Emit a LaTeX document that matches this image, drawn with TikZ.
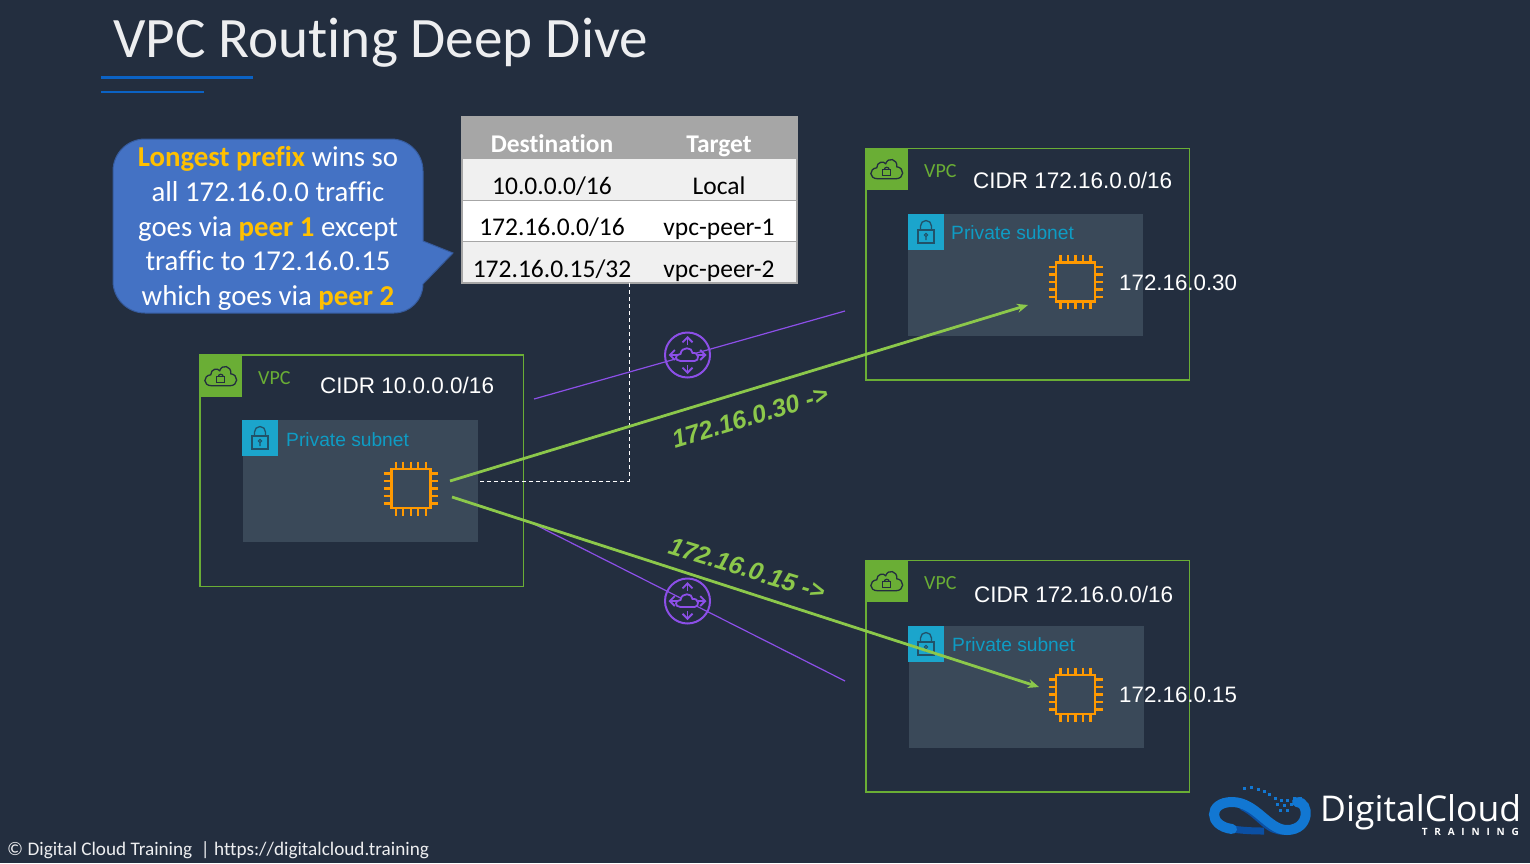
\documentclass[tikz,border=0pt]{standalone}
\usepackage{fontspec}
\setmainfont{Carlito}[Ligatures=NoCommon]
\newfontfamily\arialfont{Liberation Sans}
\newfontfamily\logofont{Open Sans}
\usetikzlibrary{arrows.meta}
\definecolor{bgdark}{HTML}{232E3F}
\definecolor{vpcgreen}{HTML}{6AAE35}
\definecolor{subnetfill}{HTML}{3A4959}
\definecolor{subnetblue}{HTML}{1BA5CC}
\definecolor{subnettext}{HTML}{0E9CC4}
\definecolor{chiporange}{HTML}{FF9900}
\definecolor{peerpurple}{HTML}{8C4FE8}
\definecolor{routegreen}{HTML}{8CC84B}
\definecolor{calloutblue}{HTML}{4472C4}
\definecolor{prefixgold}{HTML}{FFC000}
\definecolor{titleblue}{HTML}{0B62C4}
\definecolor{logoblue}{HTML}{1277D2}
\definecolor{logodeep}{HTML}{0B4FA3}
\tikzset{
  vpcbox/.style={draw=vpcgreen,line width=1.8pt,minimum width=323.5pt,minimum height=231.5pt,inner sep=0pt,outer sep=0pt,anchor=north west},
  vpcicon/.style={fill=vpcgreen,minimum size=41.5pt,inner sep=0pt,outer sep=0pt,anchor=north west},
  subnetbox/.style={fill=subnetfill,minimum width=235pt,minimum height=122pt,inner sep=0pt,outer sep=0pt,anchor=north west},
  subneticon/.style={fill=subnetblue,minimum size=36pt,inner sep=0pt,outer sep=0pt,anchor=north west},
  vpclabel/.style={text=vpcgreen,font=\fontsize{20}{24}\selectfont,inner sep=0pt,anchor=west},
  subnetlabel/.style={text=subnettext,font=\arialfont\fontsize{19.2}{24}\selectfont,inner sep=0pt,anchor=west},
  cidrlabel/.style={text=white,font=\arialfont\fontsize{22.5}{27}\selectfont,inner sep=0pt,anchor=west},
  iplabel/.style={text=white,font=\arialfont\fontsize{22.3}{27}\selectfont,inner sep=0pt,anchor=west},
  routelabel/.style={text=routegreen,font=\arialfont\bfseries\itshape\fontsize{25}{27}\selectfont,inner sep=0pt},
  rowbox/.style={minimum width=335pt,inner sep=0pt,outer sep=0pt,anchor=north west},
  cell/.style={text=black,font=\fontsize{25.5}{30}\selectfont,inner sep=0pt,anchor=base},
  headcell/.style={text=white,font=\bfseries\fontsize{25.5}{30}\selectfont,inner sep=0pt,anchor=base},
  peerline/.style={draw=peerpurple,line width=1.2pt},
  routearrow/.style={draw=routegreen,line width=2.8pt,-{Stealth[length=11pt,width=9pt]}},
  chipicon/.pic={
    \draw[chiporange,line width=2.8pt] (-19.5,-19.5) rectangle (19.5,19.5);
    \foreach \p in {-15,-7.5,0,7.5,15} {
      \draw[chiporange,line width=2.1pt] (\p,-27) -- (\p,-19.5);
      \draw[chiporange,line width=2.1pt] (\p,19.5) -- (\p,27);
      \draw[chiporange,line width=2.1pt] (-27,\p) -- (-19.5,\p);
      \draw[chiporange,line width=2.1pt] (19.5,\p) -- (27,\p);
    }
  },
  cloudlock/.pic={
    \draw[bgdark,line width=1.3pt] (-9,10) .. controls (-18,10) and (-18,0) .. (-10,-1) .. controls (-10,-7) and (-3,-8) .. (-1,-5) .. controls (1,-12) and (11,-10) .. (10,-2) .. controls (18,-1) and (18,10) .. (9,10) -- cycle;
    \draw[bgdark,line width=1.2pt] (-4,1) rectangle (4,7);
    \draw[bgdark,line width=1.2pt] (-2.5,1) arc (180:360:2.5);
  },
  padlock/.pic={
    \draw[bgdark!70!subnetblue,line width=1.3pt] (-8,-2) rectangle (8,11);
    \draw[bgdark!70!subnetblue,line width=1.3pt] (-5.5,-2) -- (-5.5,-6) arc (180:360:5.5) -- (5.5,-2);
    \draw[bgdark!70!subnetblue,line width=1.1pt] (0,3) circle (1.6) (0,4.6) -- (0,8);
  },
  routericon/.pic={
    \draw[peerpurple,line width=2pt] (0,0) circle (22.5);
    \foreach \a in {0,90,180,270} {
      \draw[peerpurple,line width=1.8pt,-{Straight Barb[length=5pt,width=10pt]}] (\a:10) -- (\a:19);
    }
    \draw[peerpurple,line width=1.8pt,fill=bgdark] (-7,6) .. controls (-13,6) and (-13,-1) .. (-7,-1) .. controls (-6,-9) and (5,-8) .. (5,-2) .. controls (12,-3) and (12,6) .. (7,6) -- cycle;
  }
}
\begin{document}
\begin{tikzpicture}[x=1pt,y=-1pt]
\useasboundingbox[fill=bgdark] (0,0) rectangle (1530,863);

% title
\node[text=white!92!bgdark,font=\fontsize{57.2}{60}\selectfont,inner sep=0pt,anchor=west] (title) at (113,43) {VPC Routing Deep Dive};
\coordinate (ruleA) at (101,77);
\coordinate (ruleB) at (253,77);
\coordinate (ruleC) at (101,91.5);
\coordinate (ruleD) at (204,91.5);
\draw[titleblue,line width=3pt] (ruleA) -- (ruleB);
\draw[titleblue,line width=2pt] (ruleC) -- (ruleD);

% callout
\draw[fill=calloutblue,draw=calloutblue!80!black,line width=1pt]
  (145,139) -- (391,139) arc (270:360:32) -- (423,241) -- (453,253) -- (423,284) arc (0:90:29) -- (145,313) arc (90:180:32) -- (113,171) arc (180:270:32) -- cycle;
\node[text=white,align=center,font=\fontsize{28.8}{34.6}\selectfont,inner sep=0pt] (callout) at (268,228.5) {{\color{prefixgold}\bfseries Longest prefix} wins so\\all 172.16.0.0 traffic\\goes via {\color{prefixgold}\bfseries peer 1} except\\traffic to 172.16.0.15\\which goes via {\color{prefixgold}\bfseries peer 2}};

% route table
\node[rowbox,fill=black!35,minimum height=42pt] (rowH) at (462,117) {};
\node[rowbox,fill=black!6,minimum height=41pt] (rowA) at (462,159) {};
\node[rowbox,fill=white,minimum height=41pt] (rowB) at (462,200) {};
\node[rowbox,fill=black!6,minimum height=42pt] (rowC) at (462,241) {};
\draw[black!35,line width=1.5pt] (rowH.north west) rectangle (rowC.south east);
\draw[black!35,line width=1pt] (rowB.north west) -- (rowB.north east);
\draw[black!35,line width=1pt] (rowC.north west) -- (rowC.north east);
\node[headcell] (headDest) at (552,152) {Destination};
\node[headcell] (headTarget) at (719,152) {Target};
\node[cell] (destA) at (552,194) {10.0.0.0/16};
\node[cell] (targetA) at (719,194) {Local};
\node[cell] (destB) at (552,235) {172.16.0.0/16};
\node[cell] (targetB) at (719,235) {vpc-peer-1};
\node[cell] (destC) at (552,277) {172.16.0.15/32};
\node[cell] (targetC) at (719,277) {vpc-peer-2};

% source vpc
\node[vpcbox] (vpcA) at (200,355) {};
\node[vpcicon] (vpcAicon) at (200,355) {};
\pic at (vpcAicon.center) {cloudlock};
\node[vpclabel] (vpcAlabel) at (258,378) {VPC};
\node[cidrlabel] (cidrA) at (320,385) {CIDR 10.0.0.0/16};
\node[subnetbox] (subnetA) at (243,420) {};
\node[subneticon] (subnetAicon) at (242,420) {};
\pic at (subnetAicon.center) {padlock};
\node[subnetlabel] (subnetAlabel) at (286,440) {Private subnet};

% vpc peer 1
\node[vpcbox] (vpcB) at (866,148.5) {};
\node[vpcicon] (vpcBicon) at (866,148) {};
\pic at (vpcBicon.center) {cloudlock};
\node[vpclabel] (vpcBlabel) at (924,171) {VPC};
\node[cidrlabel] (cidrB) at (973,180) {CIDR 172.16.0.0/16};
\node[subnetbox] (subnetB) at (908,214) {};
\node[subneticon] (subnetBicon) at (908,214) {};
\pic at (subnetBicon.center) {padlock};
\node[subnetlabel] (subnetBlabel) at (951,233) {Private subnet};

% vpc peer 2
\node[vpcbox] (vpcC) at (866,560.5) {};
\node[vpcicon] (vpcCicon) at (866,560) {};
\pic at (vpcCicon.center) {cloudlock};
\node[vpclabel] (vpcClabel) at (924,583) {VPC};
\node[cidrlabel] (cidrC) at (974,594) {CIDR 172.16.0.0/16};
\node[subnetbox] (subnetC) at (909,626) {};
\node[subneticon] (subnetCicon) at (908,626) {};
\pic at (subnetCicon.center) {padlock};
\node[subnetlabel] (subnetClabel) at (952,645) {Private subnet};

% instances
\coordinate (chipA) at (410.7,488.5);
\coordinate (chipB) at (1075.5,282);
\coordinate (chipC) at (1075.5,694.5);
\pic at (chipA) {chipicon};
\pic at (chipB) {chipicon};
\pic at (chipC) {chipicon};
\node[iplabel] (ipB) at (1119,283) {172.16.0.30};
\node[iplabel] (ipC) at (1119,695) {172.16.0.15};

% dashed link from table
\coordinate (dashA) at (629,283);
\coordinate (dashB) at (629,481);
\coordinate (dashC) at (478,481);
\draw[white,line width=1pt,dash pattern=on 4pt off 3pt] (dashA) -- (dashB) -- (dashC);

% peering links
\coordinate (peerAa) at (534,399);
\coordinate (peerAb) at (845,311);
\coordinate (peerBa) at (530,522);
\coordinate (peerBb) at (845,681);
\draw[peerline] (peerAa) -- (peerAb);
\draw[peerline] (peerBa) -- (peerBb);
\pic at (687.5,355) {routericon};
\pic at (687.5,601) {routericon};

% routes
\coordinate (routeAa) at (450,481);
\coordinate (routeAb) at (1028,305);
\coordinate (routeBa) at (452,497);
\coordinate (routeBb) at (1039,687);
\draw[routearrow] (routeAa) -- (routeAb);
\draw[routearrow] (routeBa) -- (routeBb);
\node[routelabel,rotate=17] (routeAlabel) at (750,417) {172.16.0.30 ->};
\node[routelabel,rotate=-17] (routeBlabel) at (747,569) {172.16.0.15 ->};

% footer
\node[text=white!92!bgdark,font=\fontsize{19.2}{22}\selectfont,inner sep=0pt,anchor=west] (footer) at (7,850) {© Digital Cloud Training\ \ | https://digitalcloud.training};

% logo
\draw[logodeep,line width=9pt,line cap=round] (1285,830) .. controls (1268,832) and (1260,814) .. (1243,806);
\draw[logodeep,line width=7pt] (1264,831) .. controls (1248,831) and (1240,830) .. (1232,829);
\draw[logoblue,line width=10pt,line cap=round] (1232,829) .. controls (1208,826) and (1208,802) .. (1232,802) .. controls (1256,802) and (1268,830) .. (1287,830) .. controls (1310,830) and (1310,802) .. (1297,802);
\foreach \px/\py in {1243/787,1250/786,1257/788,1263/790,1268/793,1274/797,1280/799,1286/799,1293/797,1299/797,1276/803,1283/804,1290/803,1297/802,1279/809,1286/809} {
  \fill[logoblue] (\px,\py) rectangle ++(3.4,3.4);
}
\node[text=white,font=\logofont\fontsize{35.5}{38}\selectfont,inner sep=0pt,anchor=west] (logoname) at (1320,812) {DigitalCloud};
\node[text=white,font=\logofont\bfseries\fontsize{10}{12}\selectfont,inner sep=0pt,anchor=east] (logosub) at (1519,832) {T\hspace{6.8pt}R\hspace{6.8pt}A\hspace{6.8pt}I\hspace{6.8pt}N\hspace{6.8pt}I\hspace{6.8pt}N\hspace{6.8pt}G};
\end{tikzpicture}
\end{document}
